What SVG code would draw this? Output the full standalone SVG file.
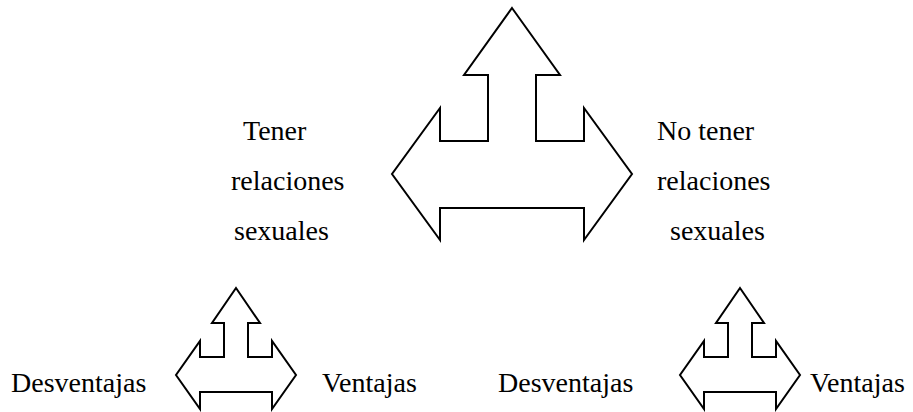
<svg xmlns="http://www.w3.org/2000/svg" width="913" height="412" viewBox="0 0 913 412">
<style>
.arrow{fill:#fff;stroke:#000;stroke-width:2;stroke-linejoin:miter}
.t{font-family:"Liberation Serif","Times New Roman",serif;font-size:28px;fill:#000}
</style>
<rect width="913" height="412" fill="#fff"/>
<g id="big-arrow">
<polygon class="arrow" points="512,8 560,75 536,75 536,141 584,141 584,108 632,174 584,240 584,208 440,208 440,240 392,174 440,108 440,141 488,141 488,75 464,75"/>
</g>
<g id="left-arrow">
<polygon class="arrow" points="236,288 260,323 248,323 248,357 272,357 272,341 296,375 272,409 272,392 200,392 200,409 176,375 200,341 200,357 224,357 224,323 212,323"/>
</g>
<g id="right-arrow">
<polygon class="arrow" points="740,288 764,323 752,323 752,357 776,357 776,341 800,375 776,409 776,392 704,392 704,409 680,375 704,341 704,357 728,357 728,323 716,323"/>
</g>
<g id="label-tener">
<text class="t" x="243" y="140">Tener</text>
<text class="t" x="231" y="190">relaciones</text>
<text class="t" x="234" y="240">sexuales</text>
</g>
<g id="label-no-tener">
<text class="t" x="657" y="140">No tener</text>
<text class="t" x="657" y="190">relaciones</text>
<text class="t" x="670" y="240">sexuales</text>
</g>
<g id="label-left-desventajas"><text class="t" x="11" y="392">Desventajas</text></g>
<g id="label-left-ventajas"><text class="t" x="322" y="392">Ventajas</text></g>
<g id="label-right-desventajas"><text class="t" x="498" y="392">Desventajas</text></g>
<g id="label-right-ventajas"><text class="t" x="810" y="392">Ventajas</text></g>
<g id="connectors"></g>
</svg>
